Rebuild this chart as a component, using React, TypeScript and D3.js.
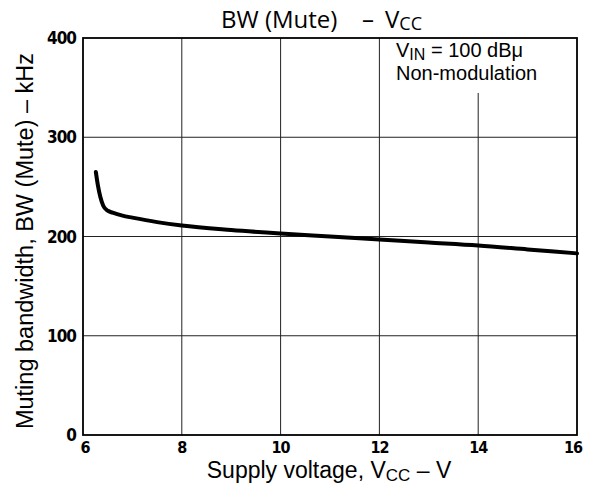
import React from "react";
import * as d3 from "d3";

const vcc = [6.26, 6.3, 6.35, 6.41, 6.5, 6.6, 6.8, 7.0, 7.5, 8.0, 9.0, 10, 11, 12, 13, 14, 15, 16];
const bw = [265, 252, 240, 231, 226, 224, 221, 219, 214.5, 211, 206.5, 203, 200, 197, 194, 191, 187, 183];
const xTicks = [6, 8, 10, 12, 14, 16];
const yTicks = [0, 100, 200, 300, 400];

const W = 596;
const H = 484;
const x = d3.scaleLinear().domain([6, 16]).range([83, 577]);
const y = d3.scaleLinear().domain([0, 400]).range([435, 38]);

export default function App() {
  const pts: [number, number][] = vcc.map((v, i) => [v, bw[i]]);
  const line = d3
    .line<[number, number]>()
    .x((d) => x(d[0]))
    .y((d) => y(d[1]))
    .curve(d3.curveMonotoneX);
  const tickFont = "'DejaVu Sans Condensed', 'DejaVu Sans', sans-serif";
  return (
    <svg
      width={W}
      height={H}
      style={{ position: "absolute", left: 0, top: 0, background: "#fff" }}
    >
      <rect x={0} y={0} width={W} height={H} fill="#fff" />
      {/* grid */}
      {xTicks.slice(1, -1).map((t) => (
        <line
          key={"gx" + t}
          x1={x(t)}
          x2={x(t)}
          y1={t === 14 ? 93 : y(400)}
          y2={y(0)}
          stroke="#222"
          strokeWidth={1}
        />
      ))}
      {yTicks.slice(1, -1).map((t) => (
        <line
          key={"gy" + t}
          x1={x(6)}
          x2={x(16)}
          y1={y(t)}
          y2={y(t)}
          stroke="#222"
          strokeWidth={1}
        />
      ))}
      <rect
        x={x(6)}
        y={y(400)}
        width={x(16) - x(6)}
        height={y(0) - y(400)}
        fill="none"
        stroke="#000"
        strokeWidth={1.8}
      />
      {/* curve */}
      <path d={line(pts) || ""} fill="none" stroke="#000" strokeWidth={4} strokeLinecap="round" />
      {/* ticks */}
      {xTicks.map((t) => (
        <text
          key={"tx" + t}
          x={x(t) + (t === 6 ? 2 : t === 16 ? -4 : 0)}
          y={453}
          textAnchor="middle"
          fontFamily={tickFont}
          fontWeight="bold"
          fontSize={16}
          letterSpacing={-1}
        >
          {t}
        </text>
      ))}
      {yTicks.map((t) => (
        <text
          key={"ty" + t}
          x={76}
          y={y(t) + 6}
          textAnchor="end"
          fontFamily={tickFont}
          fontWeight="bold"
          fontSize={17}
          letterSpacing={-1}
        >
          {t}
        </text>
      ))}
      {/* title */}
      <g fontFamily="'Open Sans', sans-serif" fontSize={24} fill="#000">
        <text x={221} y={28}>BW (Mute)</text>
        <text x={362} y={28}>–</text>
        <text x={385} y={28}>
          V<tspan fontSize={18} dy={2}>CC</tspan>
        </text>
      </g>
      {/* annotation */}
      <g fontFamily="'Liberation Sans', Arial, sans-serif" fontSize={20} fill="#000">
        <text x={396} y={57}>
          V<tspan fontSize={16} dy={3}>IN</tspan>
          <tspan dy={-3}> = 100 dBμ</tspan>
        </text>
        <text x={396} y={80}>Non-modulation</text>
      </g>
      {/* axis labels */}
      <text
        x={329}
        y={478}
        textAnchor="middle"
        fontFamily="'Liberation Sans', Arial, sans-serif"
        fontSize={23}
      >
        Supply voltage, V<tspan fontSize={17} dy={3}>CC</tspan>
        <tspan dy={-3}> – V</tspan>
      </text>
      <text
        transform="translate(33,241) rotate(-90)"
        textAnchor="middle"
        fontFamily="'Liberation Sans', Arial, sans-serif"
        fontSize={23.5}
      >
        Muting bandwidth, BW (Mute) – kHz
      </text>
    </svg>
  );
}
